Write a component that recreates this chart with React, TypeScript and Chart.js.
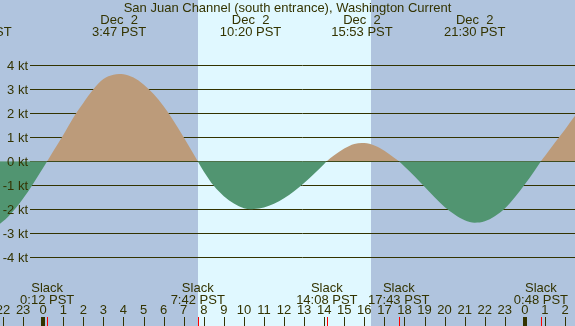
import React, { useEffect, useRef } from "react";
import { Chart, registerables } from "chart.js";

Chart.register(...registerables);

const TITLE = "San Juan Channel (south entrance), Washington Current";

// Current speed (kt) at hour of Dec 2 (PST); negative = ebb, positive = flood
const hours = [
  -3.1, -2.5, -2, -1.5, -1, -0.5, 0, 0.2, 0.5, 1, 1.5, 2, 2.5, 3, 3.5, 3.78, 4, 4.5, 5, 5.5, 6, 6.5, 7, 7.5, 7.7,
  8, 8.5, 9, 9.5, 10, 10.33, 10.5, 11, 11.5, 12, 12.5, 13, 13.5, 14, 14.13, 14.5, 15, 15.5, 15.88, 16, 16.5, 17,
  17.5, 17.72, 18, 18.5, 19, 19.5, 20, 20.5, 21, 21.5, 22, 22.5, 23, 23.5, 24, 24.5, 24.8, 25, 25.5, 26, 26.5, 27,
];
const speeds = [
  -2.88, -2.76, -2.5, -2.08, -1.55, -0.93, -0.27, 0, 0.42, 1.1, 1.82, 2.43, 3.0, 3.43, 3.61, 3.64, 3.63, 3.49, 3.2,
  2.8, 2.29, 1.68, 1.0, 0.29, 0, -0.42, -1.02, -1.45, -1.76, -1.95, -2.0, -1.99, -1.92, -1.77, -1.54, -1.25, -0.9,
  -0.52, -0.11, 0, 0.25, 0.53, 0.72, 0.76, 0.76, 0.66, 0.44, 0.14, 0, -0.22, -0.62, -1.06, -1.5, -1.9, -2.22, -2.46,
  -2.56, -2.5, -2.29, -1.97, -1.5, -0.96, -0.37, 0, 0.22, 0.78, 1.33, 1.9, 2.4,
];

const extremeTimes = [-3.1, 3.783, 10.333, 15.883, 21.5];
const extremeDates = ["Dec  1", "Dec  2", "Dec  2", "Dec  2", "Dec  2"];
const extremeClock = ["20:54 PST", "3:47 PST", "10:20 PST", "15:53 PST", "21:30 PST"];

const slackTimes = [0.2, 7.7, 14.133, 17.717, 24.8];
const slackClock = ["0:12 PST", "7:42 PST", "14:08 PST", "17:43 PST", "0:48 PST"];

const hourTicks = [-2, -1, 0, 1, 2, 3, 4, 5, 6, 7, 8, 9, 10, 11, 12, 13, 14, 15, 16, 17, 18, 19, 20, 21, 22, 23, 24, 25, 26];
const ktTicks = [4, 3, 2, 1, 0, -1, -2, -3, -4];

const sunrise = 7.71;
const sunset = 16.33;

const NIGHT = "#b0c4de";
const DAY = "#e0f8ff";
const FLOOD = "#bc9b7a";
const EBB = "#519571";
const INK = "#333300";
const FONT = "13px 'Liberation Sans'";

const decor = {
  id: "tideDecor",
  beforeDatasetsDraw(chart: any) {
    const { ctx, scales, width, height } = chart;
    const xs = scales.x;
    const ys = scales.y;
    ctx.save();
    ctx.fillStyle = NIGHT;
    ctx.fillRect(0, 0, width, height);
    ctx.fillStyle = DAY;
    const x0 = Math.round(xs.getPixelForValue(sunrise));
    const x1 = Math.round(xs.getPixelForValue(sunset));
    ctx.fillRect(x0, 0, x1 - x0, height);
    ctx.strokeStyle = INK;
    ctx.lineWidth = 1;
    for (const k of ktTicks) {
      const y = Math.round(ys.getPixelForValue(k)) + 0.5;
      ctx.beginPath();
      ctx.moveTo(30, y);
      ctx.lineTo(width, y);
      ctx.stroke();
    }
    ctx.restore();
  },
  afterDatasetsDraw(chart: any) {
    const { ctx, scales, width, height } = chart;
    const xs = scales.x;
    const ys = scales.y;
    ctx.save();
    ctx.font = FONT;
    ctx.fillStyle = INK;
    ctx.textBaseline = "alphabetic";
    // y labels
    ctx.textAlign = "right";
    for (const k of ktTicks) {
      const y = ys.getPixelForValue(k);
      ctx.fillText(`${k} kt`, 28, y + 4.5);
    }
    // title
    ctx.textAlign = "center";
    ctx.fillText(TITLE, width / 2, 12);
    // extremes
    extremeTimes.forEach((t, i) => {
      const x = xs.getPixelForValue(t);
      ctx.fillText(extremeDates[i], x, 24);
      ctx.fillText(extremeClock[i], x, 36);
    });
    // slack labels
    slackTimes.forEach((t, i) => {
      const x = xs.getPixelForValue(t);
      ctx.fillText("Slack", x, 292);
      ctx.fillText(slackClock[i], x, 304);
    });
    // hour ticks
    for (const h of hourTicks) {
      const x = xs.getPixelForValue(h);
      const lbl = String(((h % 24) + 24) % 24);
      ctx.fillStyle = INK;
      ctx.fillText(lbl, x, 314);
      if (h % 24 === 0) {
        ctx.fillRect(Math.round(x) - 2, 317, 4, height - 317);
      } else {
        ctx.fillRect(Math.round(x), 317, 1, height - 317);
      }
    }
    ctx.fillStyle = "#ff0000";
    for (const t of slackTimes) {
      const x = xs.getPixelForValue(t);
      ctx.fillRect(Math.round(x), 317, 1, height - 317);
    }
    ctx.restore();
  },
};

export default function App() {
  const ref = useRef<HTMLCanvasElement | null>(null);
  useEffect(() => {
    if (!ref.current) return;
    const chart = new Chart(ref.current, {
      type: "line",
      data: {
        datasets: [
          {
            data: hours.map((h, i) => ({ x: h, y: speeds[i] })),
            borderWidth: 0,
            borderColor: "rgba(0,0,0,0)",
            pointRadius: 0,
            cubicInterpolationMode: "monotone",
            fill: { target: "origin", above: FLOOD, below: EBB },
          },
        ],
      },
      options: {
        animation: false,
        responsive: true,
        maintainAspectRatio: false,
        layout: { padding: 0 },
        plugins: { legend: { display: false }, tooltip: { enabled: false }, title: { display: false } },
        scales: {
          x: { type: "linear", min: -2.152, max: 26.497, display: false },
          y: { type: "linear", min: -6.86, max: 6.72, display: false },
        },
      },
      plugins: [decor],
    } as any);
    return () => chart.destroy();
  }, []);
  return (
    <div style={{ position: "absolute", left: 0, top: 0, width: 575, height: 326 }}>
      <canvas ref={ref} />
    </div>
  );
}
